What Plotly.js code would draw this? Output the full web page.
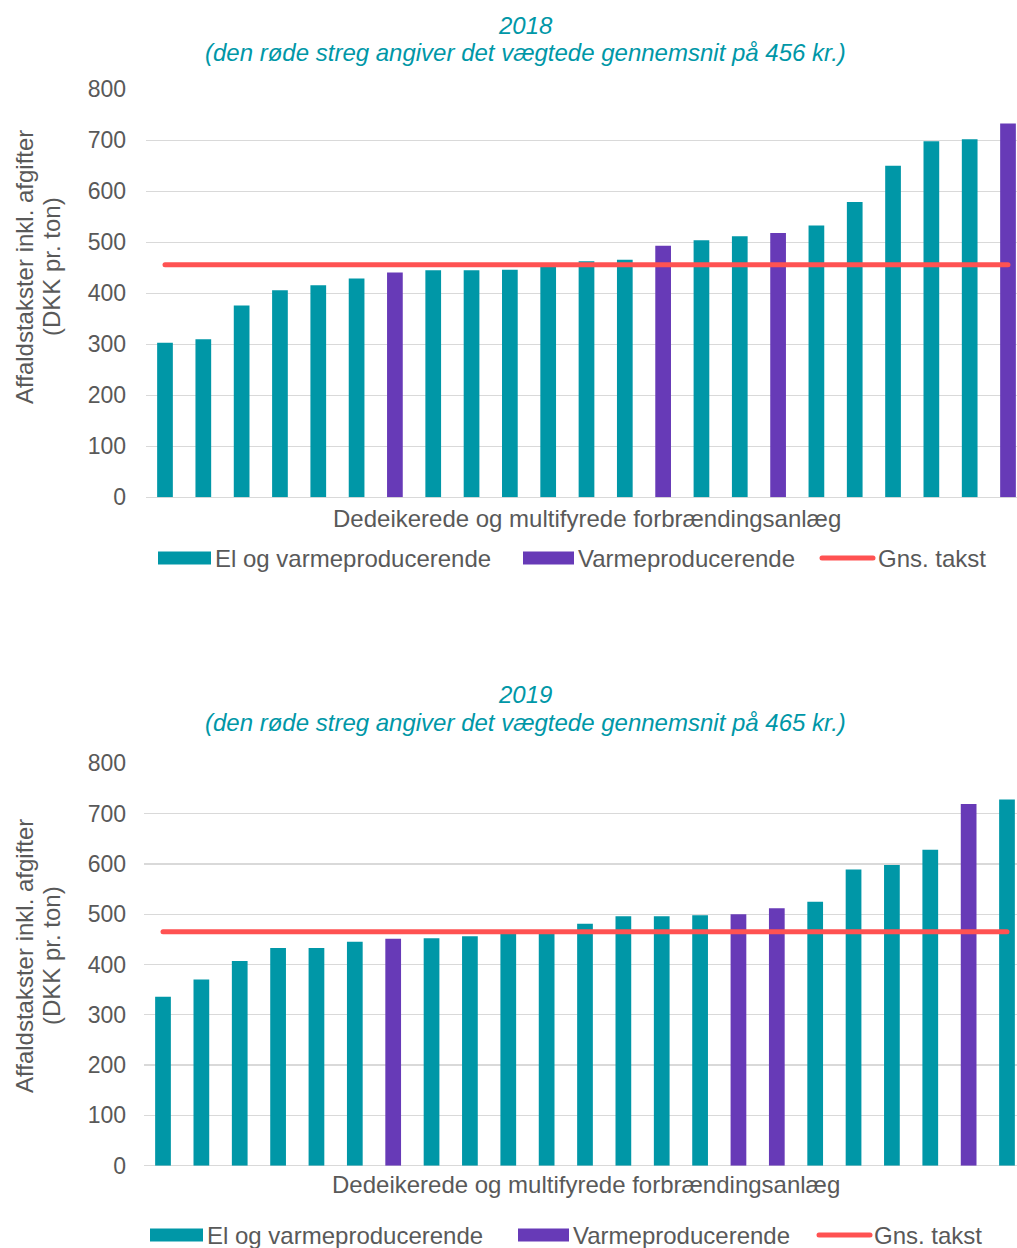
<!DOCTYPE html>
<html><head><meta charset="utf-8">
<script src="https://cdn.plot.ly/plotly-3.0.1.min.js"></script>
<style>
body{margin:0;background:#fff}
.scatterlayer .js-line, .shapelayer path{stroke-linecap:round}
</style>
</head><body>
<div id="chart" style="width:1017px;height:1248px"></div>
<script>
// ---- data ----
const plants = [1,2,3,4,5,6,7,8,9,10,11,12,13,14,15,16,17,18,19,20,21,22,23];
const values2018 = [303,310,376,406,416,429,441,445,445,446,452,463,466,493,504,512,518,533,579,650,698,702,733];
const types2018  = ['E','E','E','E','E','E','V','E','E','E','E','E','E','V','E','E','V','E','E','E','E','E','V'];
const values2019 = [336,370,407,433,433,445,451,452,456,463,466,481,496,496,498,500,512,525,589,598,628,719,728];
const types2019  = ['E','E','E','E','E','E','V','E','E','E','E','E','E','E','E','V','V','E','E','E','E','V','E'];
const avg2018 = 456;
const avg2019 = 465;
const seriesNames = {E:'El og varmeproducerende', V:'Varmeproducerende', A:'Gns. takst'};
const titles = ['2018','2019'];
const subtitles = ['(den røde streg angiver det vægtede gennemsnit på 456 kr.)',
                   '(den røde streg angiver det vægtede gennemsnit på 465 kr.)'];
const yTitle1 = 'Affaldstakster inkl. afgifter';
const yTitle2 = '(DKK pr. ton)';
const xTitle = 'Dedeikerede og multifyrede forbrændingsanlæg';

// ---- style ----
const W = 1017, H = 1248;
const TEAL = '#0097A7', PURPLE = '#673AB7', RED = '#FF5252', GREY = '#595959', GRID = '#d9d9d9';
const FONT = 'Liberation Sans, Arial, sans-serif';
const FS = 24;
const px = v => v / W;
const py = v => 1 - v / H;

function barTrace(vals, types, t, xa, ya, color) {
  return {
    type: 'bar', name: seriesNames[t],
    x: plants, y: vals.map((v, i) => types[i] === t ? v : null),
    marker: {color: color, line: {width: 0}}, width: 0.41,
    xaxis: xa, yaxis: ya, showlegend: false, hoverinfo: 'skip'
  };
}
function avgTrace(avg, xa, ya) {
  return {
    type: 'scatter', mode: 'lines', name: seriesNames.A,
    x: plants, y: plants.map(() => avg),
    line: {color: RED, width: 5}, xaxis: xa, yaxis: ya, showlegend: false, hoverinfo: 'skip'
  };
}

const data = [
  barTrace(values2018, types2018, 'E', 'x', 'y', TEAL),
  barTrace(values2018, types2018, 'V', 'x', 'y', PURPLE),
  avgTrace(avg2018, 'x', 'y'),
  barTrace(values2019, types2019, 'E', 'x2', 'y2', TEAL),
  barTrace(values2019, types2019, 'V', 'x2', 'y2', PURPLE),
  avgTrace(avg2019, 'x2', 'y2')
];

const yax = dom => ({
  domain: dom, range: [0, 800], tickvals: [0,100,200,300,400,500,600,700,800],
  showgrid: true, gridcolor: GRID, gridwidth: 1.3, zeroline: true, zerolinecolor: GRID, zerolinewidth: 1.3,
  showline: false, ticks: '', ticklabelstandoff: 19, automargin: false,
  tickfont: {family: FONT, size: 23, color: GREY}, fixedrange: true
});
const xax = (dom, rng) => ({
  domain: dom, range: rng, showgrid: false, zeroline: false, showline: false,
  showticklabels: false, ticks: '', automargin: false, fixedrange: true
});

const annotations = [];
const shapes = [];
function txt(text, x, y, opts) {
  annotations.push(Object.assign({
    text: text, xref: 'paper', yref: 'paper', x: px(x), y: py(y),
    xanchor: 'center', yanchor: 'middle', showarrow: false,
    font: {family: FONT, size: FS, color: GREY}
  }, opts || {}));
}
function block(i, o) {
  txt(titles[i], o.tx, o.t1, {font: {family: FONT, size: FS, color: TEAL, style: 'italic'}});
  txt(subtitles[i], o.tx, o.t2, {font: {family: FONT, size: FS, color: TEAL, style: 'italic'}});
  txt(yTitle1, 24, o.yc, {textangle: -90});
  txt(yTitle2, 51, o.yc, {textangle: -90});
  txt(xTitle, o.xt, o.xy);
  // legend
  shapes.push({type: 'rect', xref: 'paper', yref: 'paper', x0: px(o.l1[0]), x1: px(o.l1[1]),
    y0: py(o.ly - 6.5), y1: py(o.ly + 6.5), fillcolor: TEAL, line: {width: 0}});
  txt(seriesNames.E, o.l1[2], o.ly, {xanchor: 'left'});
  shapes.push({type: 'rect', xref: 'paper', yref: 'paper', x0: px(o.l2[0]), x1: px(o.l2[1]),
    y0: py(o.ly - 6.5), y1: py(o.ly + 6.5), fillcolor: PURPLE, line: {width: 0}});
  txt(seriesNames.V, o.l2[2], o.ly, {xanchor: 'left'});
  shapes.push({type: 'line', xref: 'paper', yref: 'paper', x0: px(o.l3[0] + 2), x1: px(o.l3[1] - 2),
    y0: py(o.ly), y1: py(o.ly), line: {color: RED, width: 5}});
  txt(seriesNames.A, o.l3[2], o.ly, {xanchor: 'left'});
}
block(0, {tx: 525, t1: 25, t2: 53, yc: 267, xt: 586.5, xy: 518, ly: 558,
          l1: [158, 211, 213], l2: [523, 574, 576], l3: [820, 875, 876]});
block(1, {tx: 525, t1: 694, t2: 722, yc: 956, xt: 586, xy: 1184, ly: 1235,
          l1: [150, 203, 205], l2: [518, 569, 571], l3: [817, 872, 872]});

const layout = {
  width: W, height: H, margin: {l: 0, r: 0, t: 0, b: 0},
  paper_bgcolor: '#fff', plot_bgcolor: '#fff', barmode: 'overlay', showlegend: false,
  font: {family: FONT, size: FS, color: GREY},
  xaxis: xax([px(146), 1], [1 - 19 / 38.32, 23 + 9 / 38.32]),
  yaxis: yax([py(497.3), py(89.3)]),
  xaxis2: xax([px(143.8), 1], [1 - 19.2 / 38.36, 23 + 10 / 38.36]),
  yaxis2: yax([py(1165.7), py(763.3)]),
  annotations: annotations, shapes: shapes
};
Plotly.newPlot('chart', data, layout, {displayModeBar: false, staticPlot: true});
</script>
</body></html>
